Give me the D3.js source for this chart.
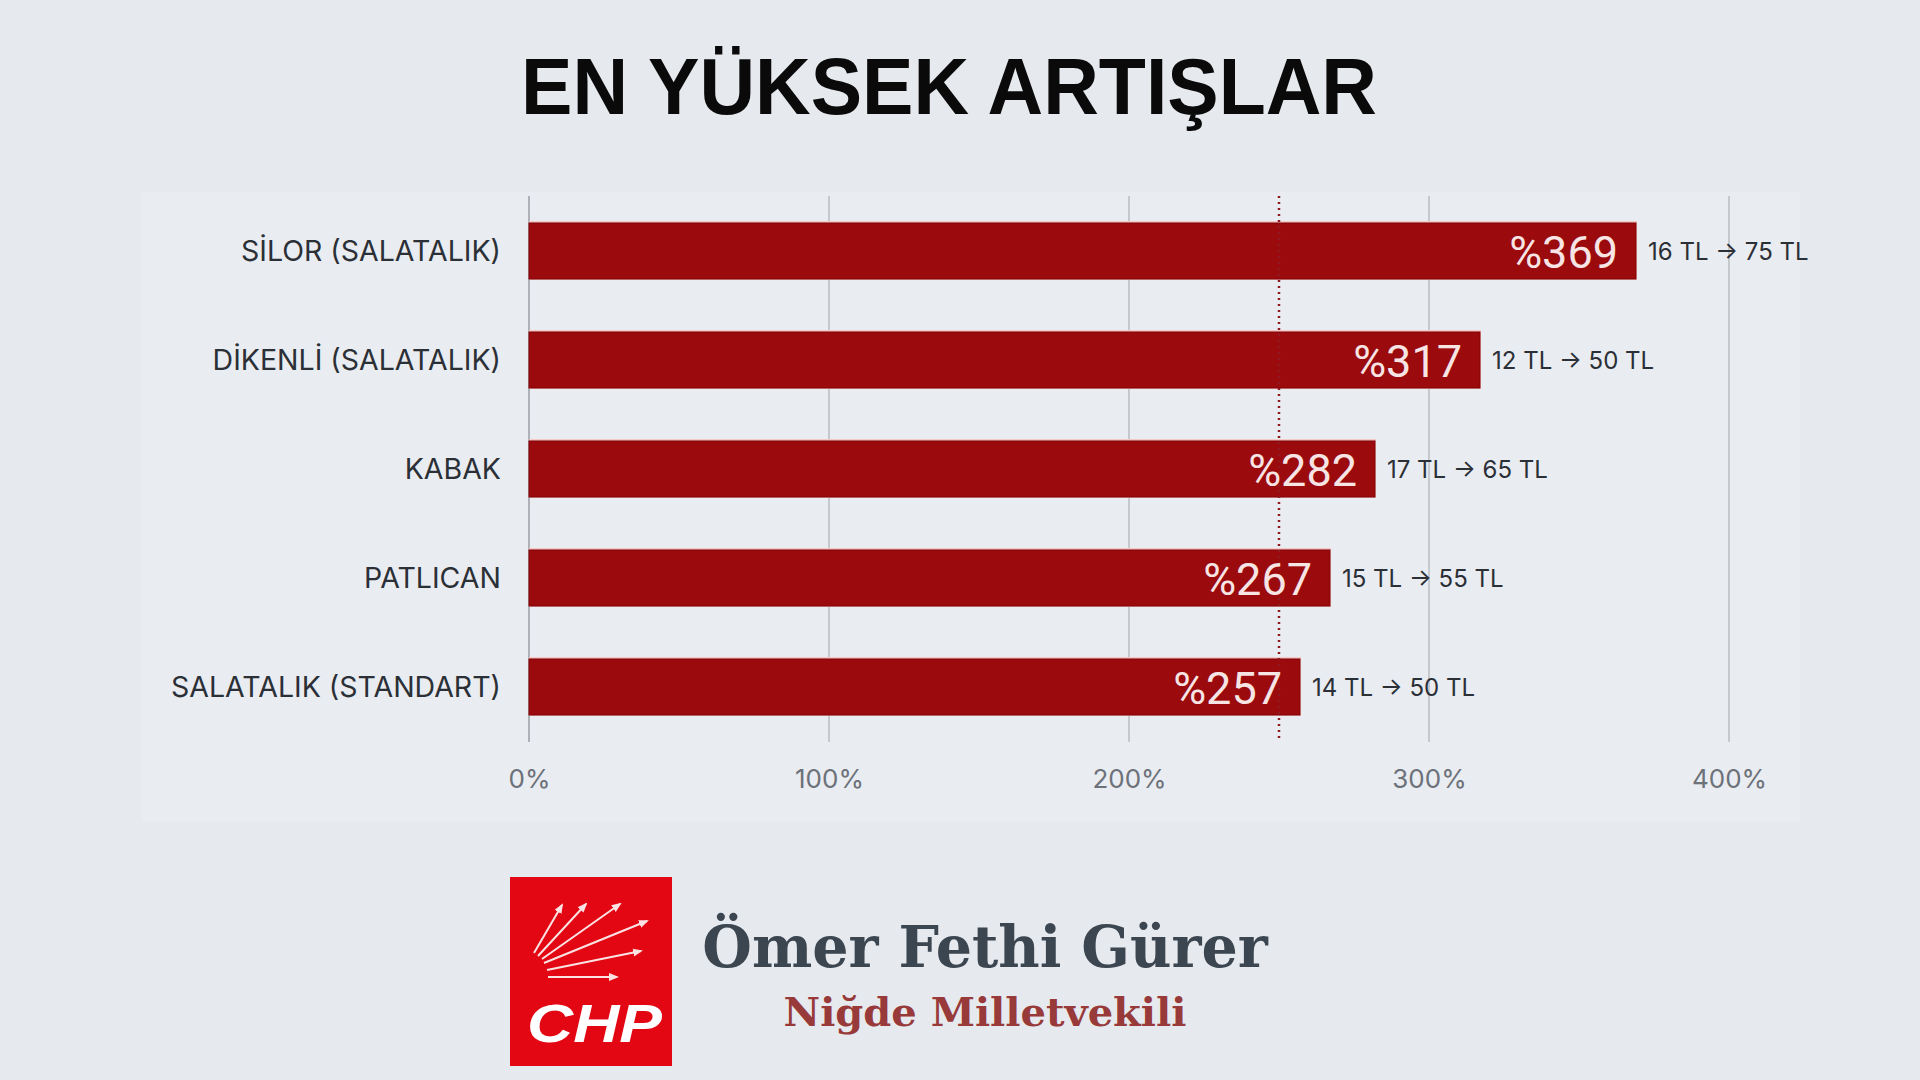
<!DOCTYPE html>
<html>
<head>
<meta charset="utf-8">
<script src="https://cdn.jsdelivr.net/npm/d3@7"></script>
<style>
  body { margin: 0; background: #e6e9ee; }
  svg { display: block; }
</style>
</head>
<body>
<div class="chart"></div>
<script>
var width = 1920;
var height = 1080;

// data
var categories = ['SİLOR (SALATALIK)', 'DİKENLİ (SALATALIK)', 'KABAK', 'PATLICAN', 'SALATALIK (STANDART)'];
var increases = [369, 317, 282, 267, 257];
var oldPrices = [16, 12, 17, 15, 14];
var newPrices = [75, 50, 65, 55, 50];
var tickValues = [0, 100, 200, 300, 400];
var refLine = 250;

var data = categories.map(function(c, i){
	return { name: c, value: increases[i], from: oldPrices[i], to: newPrices[i] };
});

var svg = d3.select('.chart')
	.append('svg')
	.attr('width', width)
	.attr('height', height);

svg.append('rect')
	.attr('width', width)
	.attr('height', height)
	.attr('fill', '#e6e9ee');

// slightly lighter panel behind the chart
svg.append('rect')
	.attr('x', 142)
	.attr('y', 192)
	.attr('width', 1658)
	.attr('height', 630)
	.attr('fill', '#e9ecf0');

svg.append('text')
	.attr('x', 949)
	.attr('y', 114)
	.attr('text-anchor', 'middle')
	.attr('font-family', 'Liberation Sans, Arial, sans-serif')
	.attr('font-weight', 'bold')
	.attr('font-size', '80px')
	.attr('textLength', 856)
	.attr('lengthAdjust', 'spacingAndGlyphs')
	.attr('fill', '#0a0a0a')
	.text('EN YÜKSEK ARTIŞLAR');

var x = d3.scaleLinear().domain([0, 400]).range([529, 1729]);
var y = d3.scaleBand().domain(categories).range([196.5, 741.5]).paddingInner(0.486).paddingOuter(0.243);

// grid lines
svg.selectAll('.grid')
	.data(tickValues)
	.enter().append('line')
	.attr('class', 'grid')
	.attr('x1', function(d){ return x(d) })
	.attr('x2', function(d){ return x(d) })
	.attr('y1', 196)
	.attr('y2', 742)
	.attr('stroke', function(d){ return d === 0 ? '#9a9ea5' : '#b8bcc2' })
	.attr('stroke-width', 1.5);

// x axis labels
var axis = svg.append('g')
	.attr('transform', 'translate(0,' + 767 + ')')
	.call(d3.axisBottom(x).tickValues(tickValues).tickSize(0).tickFormat(function(d){ return d + '%' }));
axis.select('.domain').remove();
axis.selectAll('text')
	.attr('font-family', 'Inter, sans-serif')
	.attr('font-size', '26px')
	.attr('fill', '#6c717a');

// bars
svg.selectAll('.hl')
	.data(data)
	.enter().append('rect')
	.attr('class', 'hl')
	.attr('x', x(0))
	.attr('y', function(d){ return y(d.name) - 2 })
	.attr('width', function(d){ return x(d.value) - x(0) + 1 })
	.attr('height', y.bandwidth() + 3)
	.attr('fill', '#f6c9c9');

svg.selectAll('.bar')
	.data(data)
	.enter().append('rect')
	.attr('class', 'bar')
	.attr('x', x(0))
	.attr('y', function(d){ return y(d.name) })
	.attr('width', function(d){ return x(d.value) - x(0) })
	.attr('height', y.bandwidth())
	.attr('fill', '#9b0a0d')
	.attr('stroke', '#800609')
	.attr('stroke-width', 1);

// dotted reference line
svg.append('line')
	.attr('x1', x(refLine))
	.attr('x2', x(refLine))
	.attr('y1', 196)
	.attr('y2', 742)
	.attr('stroke', '#8e1a20')
	.attr('stroke-width', 2.5)
	.attr('stroke-dasharray', '2,4');

// category labels
svg.selectAll('.cat')
	.data(data)
	.enter().append('text')
	.attr('class', 'cat')
	.attr('x', 501)
	.attr('y', function(d){ return y(d.name) + y.bandwidth() / 2 })
	.attr('dy', '0.36em')
	.attr('text-anchor', 'end')
	.attr('font-family', 'Inter, sans-serif')
	.attr('font-size', '28.5px')
	.attr('fill', '#2b2f36')
	.text(function(d){ return d.name });

// percentage inside bars
svg.selectAll('.val')
	.data(data)
	.enter().append('text')
	.attr('class', 'val')
	.attr('x', function(d){ return x(d.value) - 18 })
	.attr('y', function(d){ return y(d.name) + y.bandwidth() / 2 + 1 })
	.attr('dy', '0.36em')
	.attr('text-anchor', 'end')
	.attr('font-family', 'Roboto, sans-serif')
	.attr('font-size', '45px')
	.attr('fill', '#f7e4e4')
	.text(function(d){ return '%' + d.value });

// price change labels
svg.selectAll('.price')
	.data(data)
	.enter().append('text')
	.attr('class', 'price')
	.attr('x', function(d){ return x(d.value) + 12 })
	.attr('y', function(d){ return y(d.name) + y.bandwidth() / 2 })
	.attr('dy', '0.36em')
	.attr('font-family', 'Inter, sans-serif')
	.attr('font-size', '24px')
	.attr('fill', '#2b2f36')
	.text(function(d){ return d.from + ' TL → ' + d.to + ' TL' });

// CHP logo
var logo = svg.append('g');
logo.append('rect')
	.attr('x', 510)
	.attr('y', 877)
	.attr('width', 162)
	.attr('height', 189)
	.attr('fill', '#e30613');

var arrows = [
	[534, 953, 562, 905],
	[538, 956, 586, 904],
	[542, 959, 620, 904],
	[544, 963, 647, 921],
	[547, 970, 641, 951],
	[548, 977, 617, 977]
];
svg.append('defs').append('marker')
	.attr('id', 'tip')
	.attr('viewBox', '0 0 10 10')
	.attr('refX', 8)
	.attr('refY', 5)
	.attr('markerWidth', 5)
	.attr('markerHeight', 5)
	.attr('orient', 'auto')
	.append('path')
	.attr('d', 'M0,1 L10,5 L0,9 Z')
	.attr('fill', '#fbe3e3');

logo.selectAll('.arrow')
	.data(arrows)
	.enter().append('line')
	.attr('class', 'arrow')
	.attr('x1', function(d){ return d[0] })
	.attr('y1', function(d){ return d[1] })
	.attr('x2', function(d){ return d[2] })
	.attr('y2', function(d){ return d[3] })
	.attr('stroke', '#fbe3e3')
	.attr('stroke-width', 2)
	.attr('marker-end', 'url(#tip)');

logo.append('text')
	.attr('x', 527)
	.attr('y', 1042)
	.attr('font-family', 'Liberation Sans, Arial, sans-serif')
	.attr('font-weight', 'bold')
	.attr('font-style', 'italic')
	.attr('font-size', '53px')
	.attr('textLength', 135)
	.attr('lengthAdjust', 'spacingAndGlyphs')
	.attr('fill', '#ffffff')
	.text('CHP');

svg.append('text')
	.attr('x', 985)
	.attr('y', 967)
	.attr('text-anchor', 'middle')
	.attr('font-family', 'DejaVu Serif, serif')
	.attr('font-weight', 'bold')
	.attr('font-size', '57px')
	.attr('fill', '#3c4650')
	.text('Ömer Fethi Gürer');

svg.append('text')
	.attr('x', 985)
	.attr('y', 1026)
	.attr('text-anchor', 'middle')
	.attr('font-family', 'DejaVu Serif, serif')
	.attr('font-weight', 'bold')
	.attr('font-size', '40px')
	.attr('fill', '#983a3a')
	.text('Niğde Milletvekili');
</script>
</body>
</html>
